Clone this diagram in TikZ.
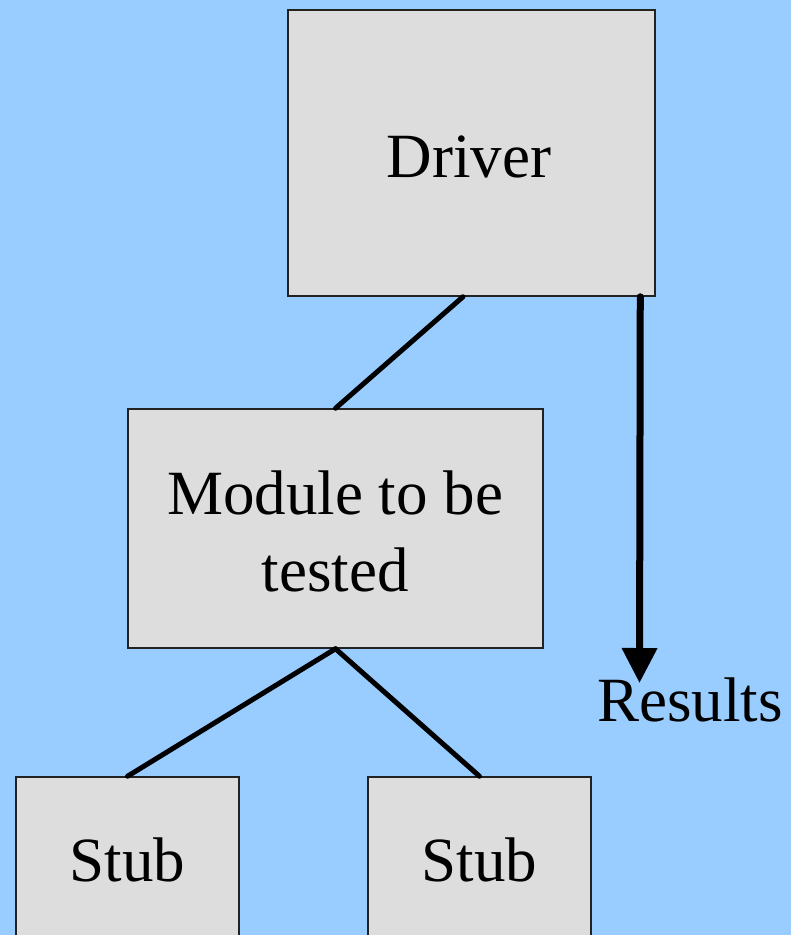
\documentclass[tikz,border=0pt]{standalone}
\usepackage{fontspec}
\setmainfont{Liberation Serif}
\usetikzlibrary{arrows.meta,calc}
\definecolor{bgblue}{HTML}{99CCFF}
\definecolor{boxgray}{HTML}{DDDDDD}
\definecolor{boxline}{HTML}{222222}
\begin{document}
\begin{tikzpicture}[x=1pt,y=-1pt,
  unit/.style={draw=boxline,line width=1.5pt,fill=boxgray,inner sep=0pt,
    font=\fontsize{63}{77}\selectfont,align=center},
  link/.style={line width=5pt,line cap=round},
  resultarrow/.style={line width=7pt,line cap=round,-{Triangle[width=34pt,length=35pt]}}]
  \fill[bgblue] (0,0) rectangle (791,935);
  \useasboundingbox (0,0) rectangle (791,935);
  \begin{scope}
  \clip (0,0) rectangle (791,935);
  \node[unit,minimum width=367pt,minimum height=286pt] (drv) at (471.5,153) {};
  \node[font=\fontsize{63}{77}\selectfont] (drvt) at (469,157) {Driver};
  \node[unit,minimum width=415pt,minimum height=239pt] (mod) at (335.5,528.5) {};
  \node[font=\fontsize{63}{77}\selectfont,align=center] (modt) at (335,531) {Module to be\\tested};
  \node[unit,minimum width=223pt,minimum height=166pt] (s1) at (127.5,860) {Stub};
  \node[unit,minimum width=223pt,minimum height=166pt] (s2) at (479.5,860) {Stub};
  \node[font=\fontsize{63}{77}\selectfont] (res) at (690,700) {Results};
  \coordinate (tip) at (639.5,683);
  \draw[link] ($(drv.south west)!0.477!(drv.south east)$) -- (mod.north);
  \draw[link] (mod.south) -- (s1.north);
  \draw[link] (mod.south) -- (s2.north);
  \draw[resultarrow] ($(drv.south west)!0.958!(drv.south east)$) -- (tip);
  \end{scope}
\end{tikzpicture}
\end{document}
